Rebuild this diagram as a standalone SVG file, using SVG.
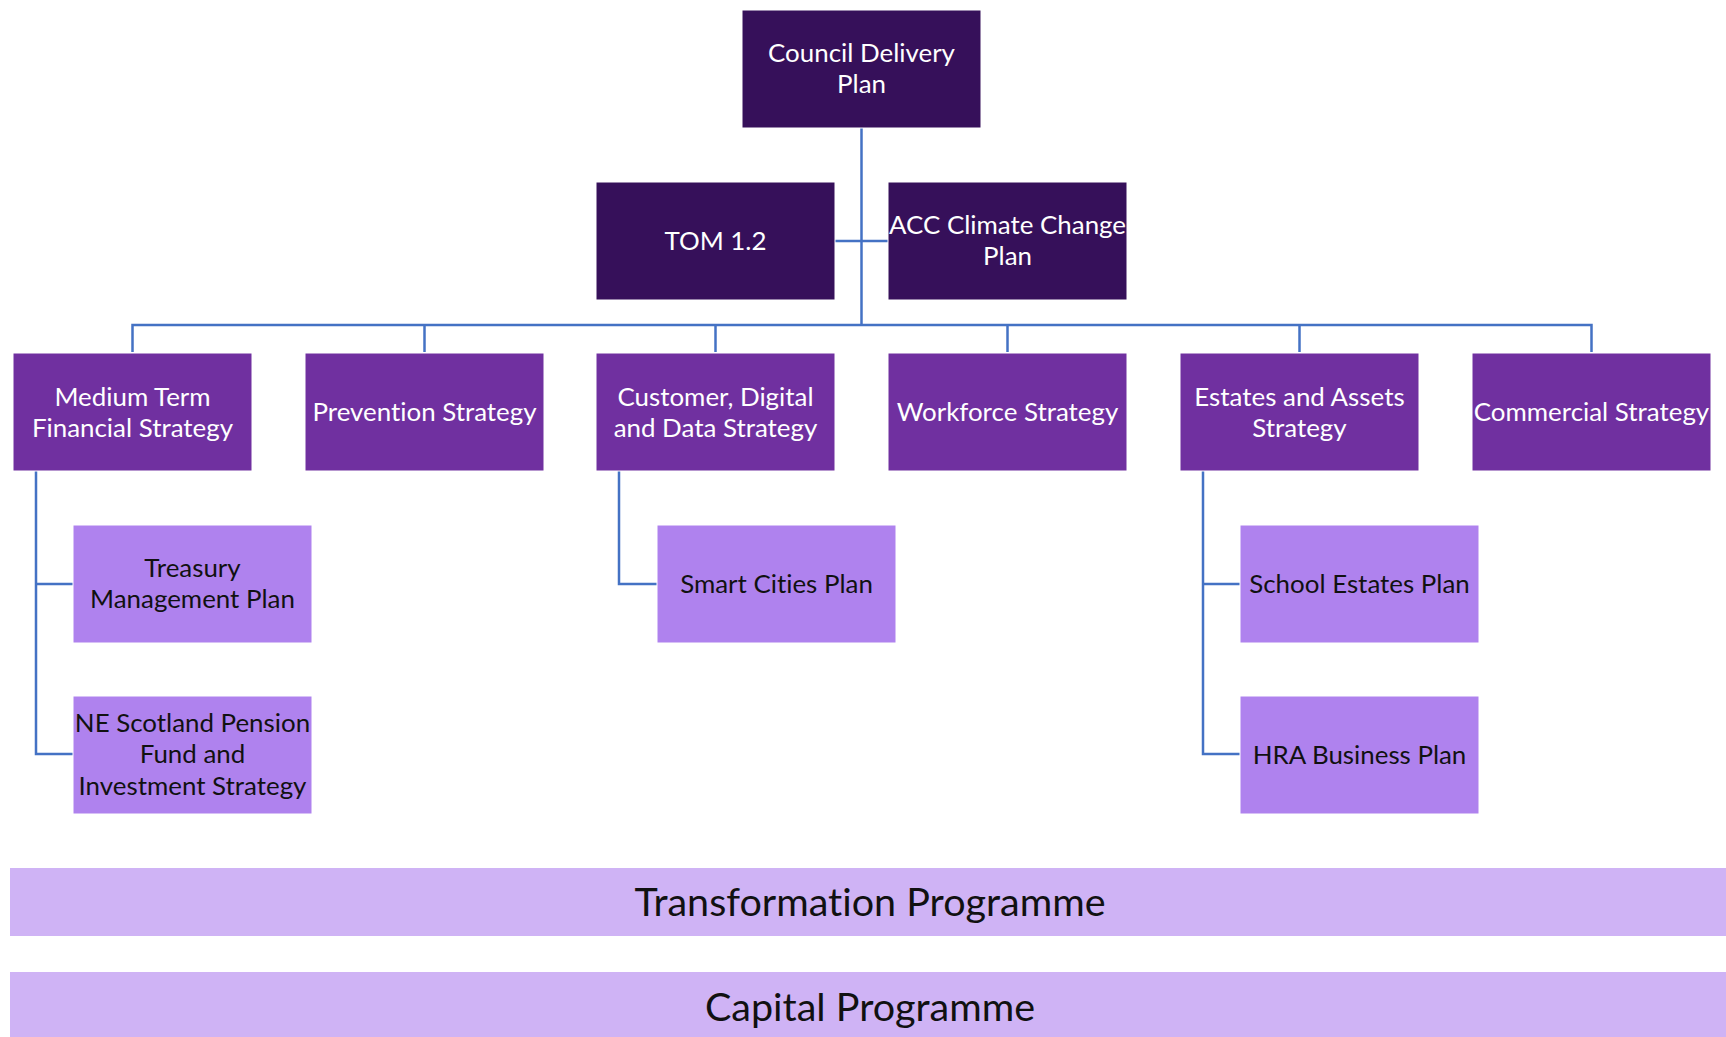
<svg xmlns="http://www.w3.org/2000/svg" width="1726" height="1037" viewBox="0 0 1726 1037">
<style>
  .dark { fill: #36105A; stroke: #ffffff; stroke-width: 1; }
  .mid { fill: #7030A0; stroke: #ffffff; stroke-width: 1; }
  .light { fill: #AF82EE; stroke: #ffffff; stroke-width: 1; }
  .band { fill: #CFB3F5; }
  text { font-family: Lato, "Open Sans", "Liberation Sans", sans-serif; font-size: 25.9px; text-anchor: middle; font-variant-ligatures: none; }
  .w { fill: #ffffff; }
  .k { fill: #111111; }
  .big { font-size: 39.5px; fill: #111111; }
  .conn path { fill: none; stroke: #4472C4; stroke-width: 2.5; }
</style>
<rect width="1726" height="1037" fill="#ffffff"/>
<g class="conn" id="connectors">
  <path d="M861.5 128 V325"/>
  <path d="M132.5 352 V325 H1591.5 V352"/>
  <path d="M424.5 325 V352"/>
  <path d="M715.5 325 V352"/>
  <path d="M1007.5 325 V352"/>
  <path d="M1299.5 325 V352"/>
  <path d="M835 241 H888"/>
  <path d="M36 471 V754 H73"/>
  <path d="M36 584 H73"/>
  <path d="M619 471 V584 H657"/>
  <path d="M1203 471 V754 H1240"/>
  <path d="M1203 584 H1240"/>
</g>
<g id="council-delivery-plan">
  <rect class="dark" x="742" y="10" width="239" height="118"/>
  <text class="w" x="861.5" y="62">Council Delivery</text>
  <text class="w" x="861.5" y="93">Plan</text>
</g>
<g id="tom">
  <rect class="dark" x="596" y="182" width="239" height="118"/>
  <text class="w" x="715.5" y="250">TOM 1.2</text>
</g>
<g id="acc-climate">
  <rect class="dark" x="888" y="182" width="239" height="118"/>
  <text class="w" x="1007.5" y="234">ACC Climate Change</text>
  <text class="w" x="1007.5" y="265">Plan</text>
</g>
<g id="medium-term">
  <rect class="mid" x="13" y="353" width="239" height="118"/>
  <text class="w" x="132.5" y="405.5">Medium Term</text>
  <text class="w" x="132.5" y="436.5">Financial Strategy</text>
</g>
<g id="prevention">
  <rect class="mid" x="305" y="353" width="239" height="118"/>
  <text class="w" x="424.5" y="421">Prevention Strategy</text>
</g>
<g id="customer-digital">
  <rect class="mid" x="596" y="353" width="239" height="118"/>
  <text class="w" x="715.5" y="405.5">Customer, Digital</text>
  <text class="w" x="715.5" y="436.5">and Data Strategy</text>
</g>
<g id="workforce">
  <rect class="mid" x="888" y="353" width="239" height="118"/>
  <text class="w" x="1007.5" y="421">Workforce Strategy</text>
</g>
<g id="estates-assets">
  <rect class="mid" x="1180" y="353" width="239" height="118"/>
  <text class="w" x="1299.5" y="405.5">Estates and Assets</text>
  <text class="w" x="1299.5" y="436.5">Strategy</text>
</g>
<g id="commercial">
  <rect class="mid" x="1472" y="353" width="239" height="118"/>
  <text class="w" x="1591.5" y="421">Commercial Strategy</text>
</g>
<g id="treasury">
  <rect class="light" x="73" y="525" width="239" height="118"/>
  <text class="k" x="192.5" y="577">Treasury</text>
  <text class="k" x="192.5" y="608">Management Plan</text>
</g>
<g id="ne-scotland-pension">
  <rect class="light" x="73" y="696" width="239" height="118"/>
  <text class="k" x="192.5" y="732">NE Scotland Pension</text>
  <text class="k" x="192.5" y="763">Fund and</text>
  <text class="k" x="192.5" y="795">Investment Strategy</text>
</g>
<g id="smart-cities">
  <rect class="light" x="657" y="525" width="239" height="118"/>
  <text class="k" x="776.5" y="592.5">Smart Cities Plan</text>
</g>
<g id="school-estates">
  <rect class="light" x="1240" y="525" width="239" height="118"/>
  <text class="k" x="1359.5" y="592.5">School Estates Plan</text>
</g>
<g id="hra-business">
  <rect class="light" x="1240" y="696" width="239" height="118"/>
  <text class="k" x="1359.5" y="763.5">HRA Business Plan</text>
</g>
<g id="transformation-programme">
  <rect class="band" x="10" y="868" width="1716" height="68"/>
  <text class="big" x="870" y="915.5">Transformation Programme</text>
</g>
<g id="capital-programme">
  <rect class="band" x="10" y="972" width="1716" height="65"/>
  <text class="big" x="870" y="1020.5">Capital Programme</text>
</g>
</svg>
